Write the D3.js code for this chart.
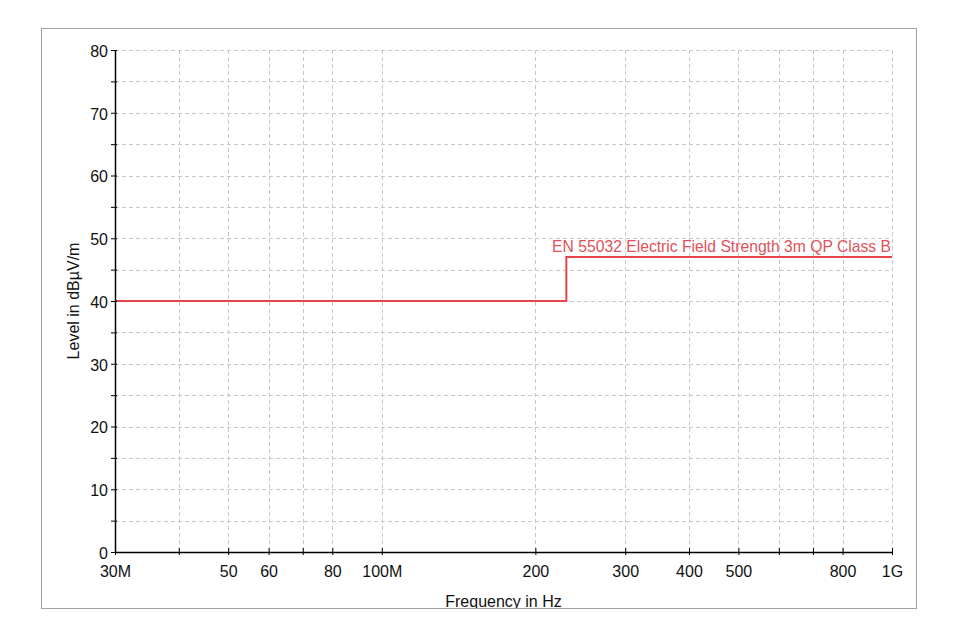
<!DOCTYPE html>
<html>
<head>
<meta charset="utf-8">
<script src="https://cdn.jsdelivr.net/npm/d3@7"></script>
<style>
  html, body { margin: 0; padding: 0; background: #ffffff; }
  svg { display: block; font-family: "Liberation Sans", Arial, sans-serif; }
</style>
</head>
<body>
<svg id="chart" width="958" height="638"></svg>
<script>
// ---- data ----
const limitFreqMHz = [30, 230, 1000];
const limitLevel = [40, 47, 47];
const limitName = "EN 55032 Electric Field Strength 3m QP Class B";

const xTickValues = [30, 40, 50, 60, 70, 80, 100, 200, 300, 400, 500, 600, 700, 800, 1000];
const xTickLabels = { 30: "30M", 50: "50", 60: "60", 80: "80", 100: "100M", 200: "200", 300: "300", 400: "400", 500: "500", 800: "800", 1000: "1G" };
const yTickValues = [0, 5, 10, 15, 20, 25, 30, 35, 40, 45, 50, 55, 60, 65, 70, 75, 80];
const yTickLabels = [0, 10, 20, 30, 40, 50, 60, 70, 80];

const xTitle = "Frequency in Hz";
const yTitle = "Level in dBµV/m";

// ---- layout ----
const svg = d3.select("#chart");
const plot = { left: 115, right: 892, top: 50, bottom: 552 };

const x = d3.scaleLog().domain([30, 1000]).range([plot.left, plot.right]);
const y = d3.scaleLinear().domain([0, 80]).range([plot.bottom, plot.top]);

// panel border
svg.append("rect")
  .attr("x", 41.5).attr("y", 28.5)
  .attr("width", 875).attr("height", 580)
  .attr("fill", "#ffffff")
  .attr("stroke", "#a0a0a0").attr("stroke-width", 1);

svg.append("defs").append("clipPath").attr("id", "panelclip")
  .append("rect").attr("x", 42).attr("y", 29).attr("width", 874).attr("height", 579);

// grid
const grid = svg.append("g").attr("stroke", "#c8c8c8").attr("stroke-width", 1)
  .attr("stroke-dasharray", "4,3").attr("fill", "none");
xTickValues.filter(v => v !== 30).forEach(v => {
  const px = Math.round(x(v)) + 0.5;
  grid.append("line").attr("x1", px).attr("x2", px).attr("y1", plot.top).attr("y2", plot.bottom);
});
yTickValues.filter(v => v !== 0).forEach(v => {
  const py = Math.round(y(v)) + 0.5;
  grid.append("line").attr("x1", plot.left).attr("x2", plot.right).attr("y1", py).attr("y2", py);
});

// limit line
const pts = limitFreqMHz.map((f, i) => [f, limitLevel[i]]);
const line = d3.line().x(d => x(d[0])).y(d => y(d[1])).curve(d3.curveStepAfter);
svg.append("path").datum(pts)
  .attr("d", line)
  .attr("fill", "none")
  .attr("stroke", "#e8434b")
  .attr("stroke-width", 2);

svg.append("text")
  .attr("x", x(1000) - 1)
  .attr("y", y(47) - 5)
  .attr("text-anchor", "end")
  .attr("font-size", 15.7)
  .attr("fill", "#e0525a")
  .text(limitName);

// axes
const xAxis = d3.axisBottom(x)
  .tickValues(xTickValues)
  .tickFormat(d => xTickLabels[d] || "")
  .tickSizeInner(0).tickSizeOuter(0).tickPadding(14);
const gx = svg.append("g").attr("transform", `translate(0,${plot.bottom})`).call(xAxis);
gx.select(".domain").attr("stroke", "#000").attr("stroke-width", 1.5);
gx.selectAll(".tick line").attr("y1", -4).attr("y2", 3).attr("stroke", "#000").attr("stroke-width", 1);
gx.selectAll(".tick text").attr("font-size", 16).attr("font-family", "Liberation Sans, Arial, sans-serif").attr("fill", "#111");

const yAxis = d3.axisLeft(y)
  .tickValues(yTickValues)
  .tickFormat(d => yTickLabels.includes(d) ? String(d) : "")
  .tickSizeInner(0).tickSizeOuter(0).tickPadding(7);
const gy = svg.append("g").attr("transform", `translate(${plot.left},0)`).call(yAxis);
gy.select(".domain").attr("stroke", "#000").attr("stroke-width", 1.5);
gy.selectAll(".tick line").attr("x1", -4).attr("x2", 2).attr("stroke", "#000").attr("stroke-width", 1);
gy.selectAll(".tick text").attr("font-size", 16).attr("font-family", "Liberation Sans, Arial, sans-serif").attr("fill", "#111").attr("dy", "0.4em");

// titles
const titles = svg.append("g").attr("clip-path", "url(#panelclip)");
titles.append("text")
  .attr("x", (plot.left + plot.right) / 2)
  .attr("y", 606.5)
  .attr("text-anchor", "middle")
  .attr("font-size", 16)
  .attr("fill", "#111")
  .text(xTitle);

titles.append("text")
  .attr("transform", `translate(79,${(plot.top + plot.bottom) / 2}) rotate(-90)`)
  .attr("text-anchor", "middle")
  .attr("font-size", 16)
  .attr("fill", "#111")
  .text(yTitle);
</script>
</body>
</html>
